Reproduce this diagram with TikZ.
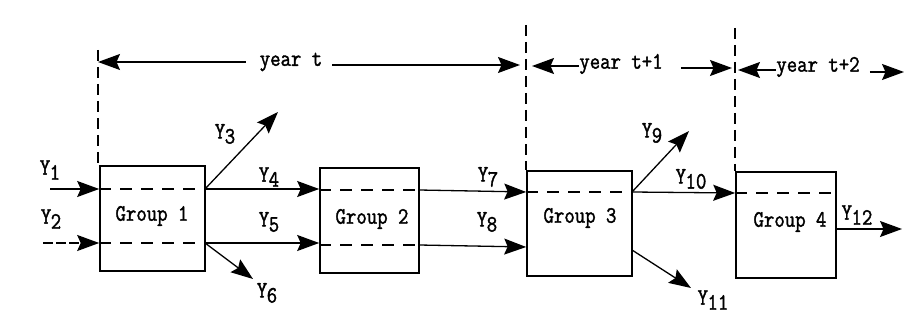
\documentclass[tikz,border=0pt]{standalone}
\usepackage{fontspec}
\setmonofont{Latin Modern Mono}[FakeBold=1.6,FakeStretch=0.86]
\usetikzlibrary{arrows.meta}
\newcommand\Ysub[1]{Y\kern-0.02em\raisebox{-0.5ex}{#1}}
\begin{document}
\begin{tikzpicture}[x=1pt,y=-1pt,
  font=\ttfamily\fontsize{23.5}{26}\selectfont,
  grp/.style={draw,line width=1.6pt,inner sep=0pt},
  flow/.style={line width=1.3pt,-{Stealth[length=22pt,width=16pt,inset=3.5pt]}},
  inner/.style={line width=1.2pt,dash pattern=on 12pt off 9pt},
  vline/.style={line width=1.2pt,dash pattern=on 11pt off 6pt},
  lbl/.style={inner sep=0pt}]
\useasboundingbox (0,0) rectangle (904,320);
% boxes
\node[grp,minimum width=105pt,minimum height=105pt] (g1) at (152.5,218.5) {};
\node[grp,minimum width=99pt,minimum height=105pt] (g2) at (369.5,220.5) {};
\node[grp,minimum width=105pt,minimum height=105pt] (g3) at (579.5,223.5) {};
\node[grp,minimum width=100pt,minimum height=106pt] (g4) at (786,225) {};
\node[lbl] (t1) at (152,216) {Group 1};
\node[lbl] (t2) at (372,219) {Group 2};
\node[lbl] (t3) at (580,218) {Group 3};
\node[lbl] (t4) at (790,222) {Group 4};
% inner dashed lines
\draw[inner] (g1.west |- 0,189) -- (g1.east |- 0,189);
\draw[inner] (g1.west |- 0,243) -- (g1.east |- 0,243);
\draw[inner] (g2.west |- 0,190) -- (g2.east |- 0,190);
\draw[inner] (g2.west |- 0,245) -- (g2.east |- 0,245);
\draw[inner] (g3.west |- 0,192) -- (g3.east |- 0,192);
\draw[inner] (g4.west |- 0,193) -- (g4.east |- 0,193);
% vertical year boundaries
\coordinate (v1t) at (98,50);
\coordinate (v2t) at (526,25);
\coordinate (v3t) at (735,28);
\draw[vline] (v1t) -- (v1t |- g1.north);
\draw[vline] (v2t) -- (v2t |- g3.north);
\draw[vline] (v3t) -- (v3t |- g4.north);
% year labels
\node[lbl] (yt) at (291,62) {year t};
\node[lbl] (yt1) at (621,64) {year t+1};
\node[lbl] (yt2) at (818,67) {year t+2};
\coordinate (a1) at (98,62);
\coordinate (a2) at (520,65);
\coordinate (a3) at (532,66);
\coordinate (a4) at (732,68);
\coordinate (a5) at (738,70);
\coordinate (a6) at (904,72);
\draw[flow] ([xshift=-14pt]yt.west) -- (a1);
\draw[flow] ([xshift=10pt]yt.east |- a2) -- (a2);
\draw[flow] (yt1.west |- a3) -- (a3);
\draw[flow] ([xshift=18pt]yt1.east |- a4) -- (a4);
\draw[flow] (yt2.west |- a5) -- (a5);
\draw[flow] ([xshift=10pt]yt2.east |- a6) -- (a6);
% flows
\coordinate (y1s) at (50,189);
\coordinate (y2s) at (43,243);
\coordinate (g1u) at (205,189);
\coordinate (g1l) at (205,243);
\coordinate (g2u) at (419,190);
\coordinate (g2l) at (419,245);
\coordinate (g3u) at (632,192);
\coordinate (g3l) at (632,250);
\coordinate (y3e) at (278,112);
\coordinate (y6e) at (253,279);
\coordinate (y9e) at (689,131);
\coordinate (y11e) at (691,288);
\coordinate (y12e) at (902,229);
\draw[flow] (y1s) -- (y1s -| g1.west);
\draw[flow,dash pattern=on 10pt off 3pt] (y2s) -- (y2s -| g1.west);
\draw[flow] (g1u) -- (y3e);
\draw[flow] (g1u) -- (g1u -| g2.west);
\draw[flow] (g1l) -- (g1l -| g2.west);
\draw[flow] (g1l) -- (y6e);
\draw[flow] (g2u) -- (g3.west |- 0,192);
\draw[flow] (g2l) -- (g3.west |- 0,247);
\draw[flow] (g3u) -- (y9e);
\draw[flow] (g3u) -- (g4.west |- 0,193);
\draw[flow] (g3l) -- (y11e);
\draw[flow] (g4.east |- y12e) -- (y12e);
% flow labels
\node[lbl] (l1) at (50,170) {\Ysub{1}};
\node[lbl] (l2) at (51,219) {\Ysub{2}};
\node[lbl] (l3) at (225,134) {\Ysub{3}};
\node[lbl] (l4) at (269,177) {\Ysub{4}};
\node[lbl] (l5) at (269,222) {\Ysub{5}};
\node[lbl] (l6) at (267,293) {\Ysub{6}};
\node[lbl] (l7) at (488,177) {\Ysub{7}};
\node[lbl] (l8) at (487,222) {\Ysub{8}};
\node[lbl] (l9) at (652,133) {\Ysub{9}};
\node[lbl] (l10) at (691,179) {\Ysub{10}};
\node[lbl] (l11) at (713,300) {\Ysub{11}};
\node[lbl] (l12) at (857,215) {\Ysub{12}};
\end{tikzpicture}
\end{document}
